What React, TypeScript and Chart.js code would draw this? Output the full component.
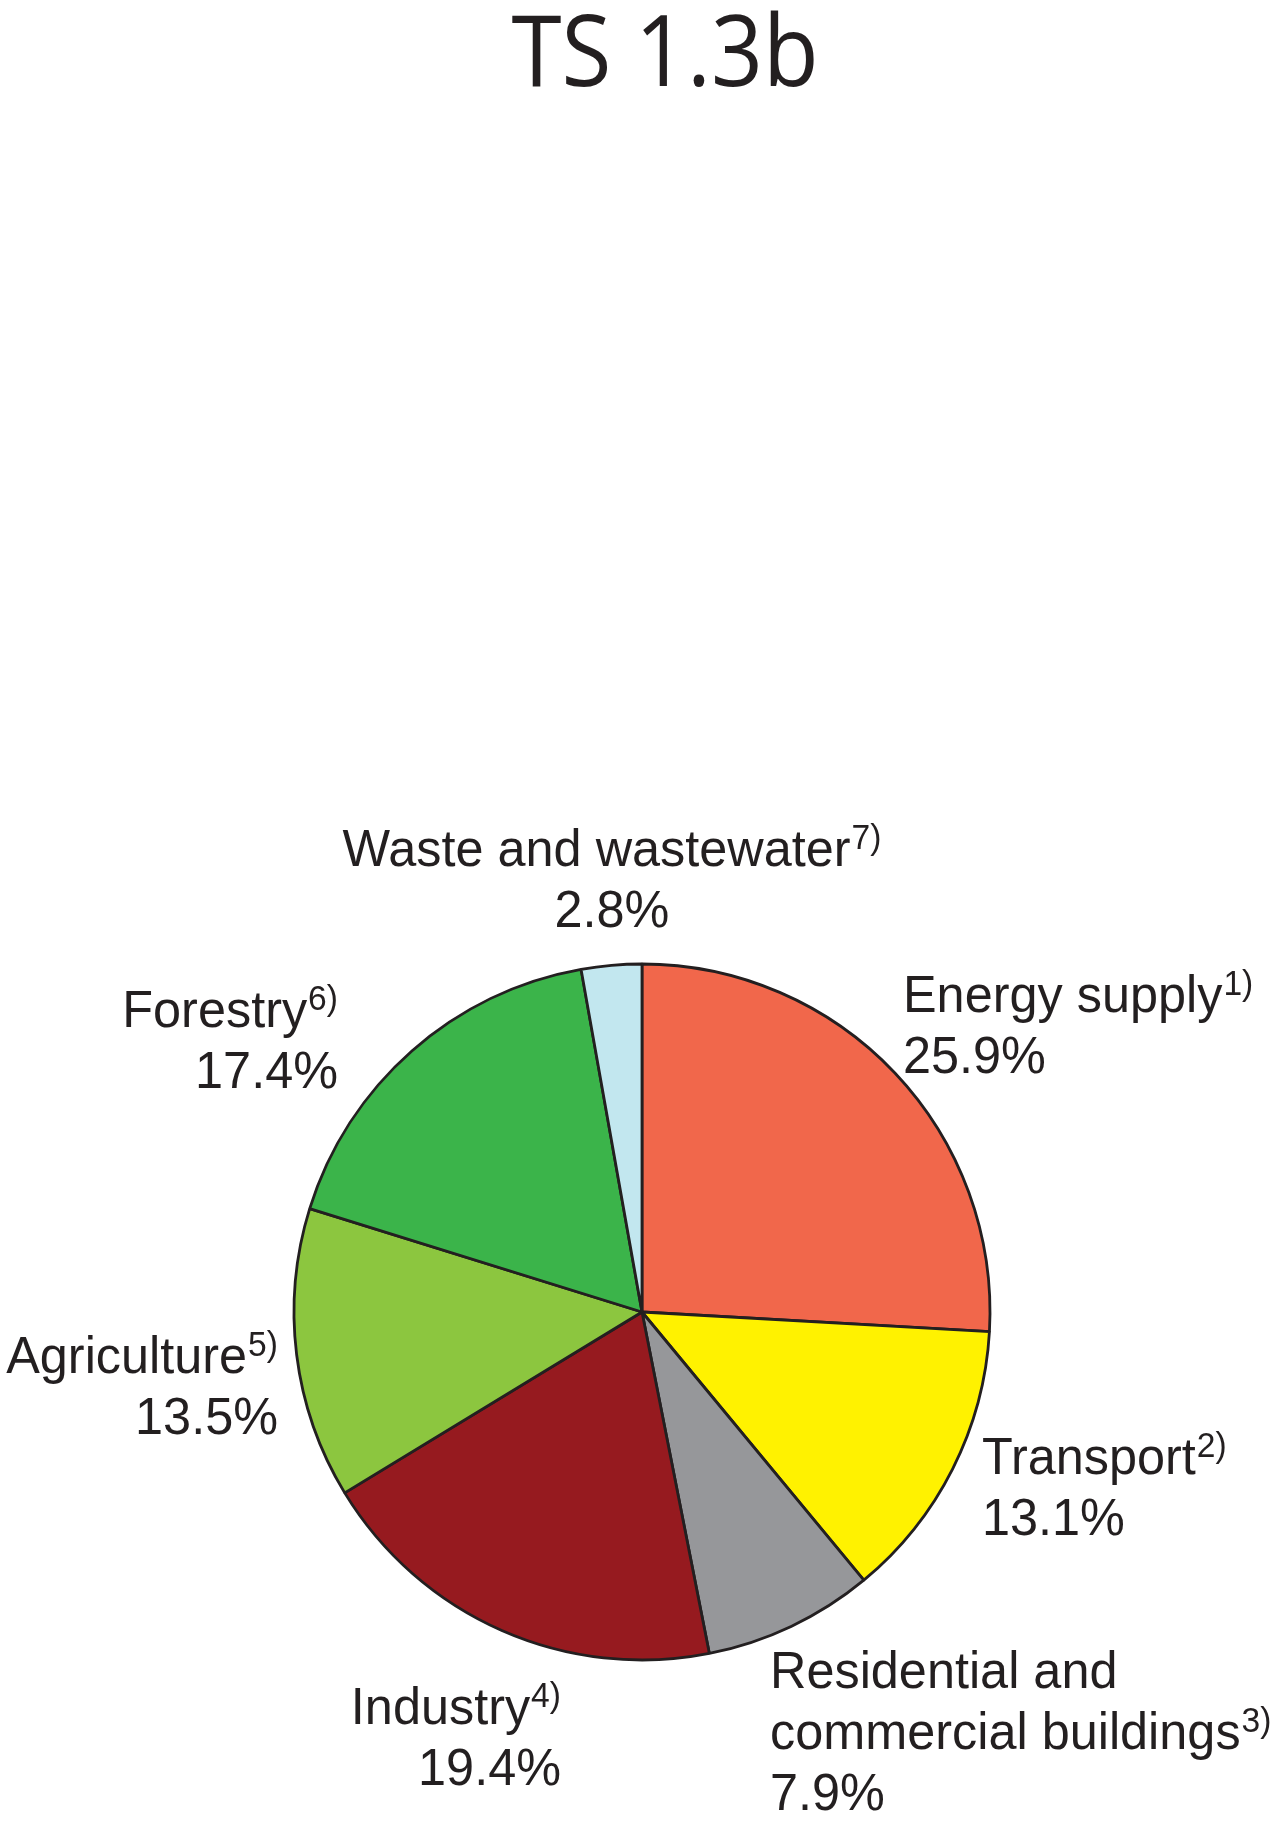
import React, { useEffect, useRef } from "react";
import { Chart, registerables } from "chart.js";

Chart.register(...registerables);

const TITLE = "TS 1.3b";
const categories = [
  "Energy supply",
  "Transport",
  "Residential and\ncommercial buildings",
  "Industry",
  "Agriculture",
  "Forestry",
  "Waste and wastewater",
];
const footnotes = ["1)", "2)", "3)", "4)", "5)", "6)", "7)"];
const shares = [25.9, 13.1, 7.9, 19.4, 13.5, 17.4, 2.8];
const sliceColors = ["#F1674B", "#FFF200", "#96979A", "#961A1F", "#8CC63F", "#3BB44A", "#C2E7EF"];

const TEXT_COLOR = "#231F20";
const LABEL_FONT = 52.5;
const H_SCALE = 0.96;
const SUP_FONT = 35;
const SUP_RAISE = 17;
const LINE_GAP = 61;

// label anchor offsets relative to pie centre (px)
const LABEL_LAYOUT: { dx: number; dy: number; align: "left" | "right" | "center" }[] = [
  { dx: 261, dy: -300, align: "left" },
  { dx: 340, dy: 162, align: "left" },
  { dx: 128, dy: 376, align: "left" },
  { dx: -81, dy: 412, align: "right" },
  { dx: -364, dy: 61, align: "right" },
  { dx: -304, dy: -285, align: "right" },
  { dx: -30, dy: -446, align: "center" },
];

function drawScaled(ctx: CanvasRenderingContext2D, text: string, x: number, y: number) {
  ctx.save();
  ctx.translate(x, y);
  ctx.scale(H_SCALE, 1);
  ctx.fillText(text, 0, 0);
  ctx.restore();
}

const labelPlugin = {
  id: "sectorLabels",
  afterDraw(chart: any) {
    const ctx: CanvasRenderingContext2D = chart.ctx;
    const arc = chart.getDatasetMeta(0).data[0];
    const cx = arc.x;
    const cy = arc.y;
    ctx.save();
    ctx.fillStyle = TEXT_COLOR;
    ctx.textBaseline = "alphabetic";

    // title
    ctx.font = `400 99px "Open Sans"`;
    const tm = ctx.measureText(TITLE);
    const ink = tm.actualBoundingBoxLeft + tm.actualBoundingBoxRight;
    const sx = 303 / ink;
    ctx.save();
    ctx.translate(665, 86);
    ctx.scale(sx, 1);
    ctx.textAlign = "center";
    ctx.fillText(TITLE, 0, 0);
    ctx.restore();

    ctx.textAlign = "left";
    LABEL_LAYOUT.forEach((pos, i) => {
      const nameLines = categories[i].split("\n");
      const lines = [...nameLines, shares[i].toFixed(1) + "%"];
      const X = cx + pos.dx;
      lines.forEach((line, j) => {
        const y = cy + pos.dy + j * LINE_GAP;
        const withSup = j === nameLines.length - 1;
        ctx.font = `${LABEL_FONT}px "Liberation Sans"`;
        const mainW = ctx.measureText(line).width * H_SCALE;
        let supW = 0;
        const gap = withSup ? 1 : 0;
        if (withSup) {
          ctx.font = `${SUP_FONT}px "Liberation Sans"`;
          supW = ctx.measureText(footnotes[i]).width * H_SCALE;
        }
        const total = mainW + gap + supW;
        let x0 = X;
        if (pos.align === "right") x0 = X - total;
        else if (pos.align === "center") x0 = X - total / 2;
        ctx.font = `${LABEL_FONT}px "Liberation Sans"`;
        drawScaled(ctx, line, x0, y);
        if (withSup) {
          ctx.font = `${SUP_FONT}px "Liberation Sans"`;
          drawScaled(ctx, footnotes[i], x0 + mainW + gap, y - SUP_RAISE);
        }
      });
    });
    ctx.restore();
  },
};

export default function App() {
  const ref = useRef<HTMLCanvasElement | null>(null);
  useEffect(() => {
    if (!ref.current) return;
    const chart = new Chart(ref.current, {
      type: "pie",
      data: {
        labels: categories.map((c) => c.replace("\n", " ")),
        datasets: [
          {
            data: shares,
            backgroundColor: sliceColors,
            borderColor: "#231F20",
            borderWidth: 2.8,
          },
        ],
      },
      options: {
        responsive: false,
        animation: false,
        devicePixelRatio: 1,
        radius: 348,
        layout: { padding: { top: 811, bottom: 10, left: 4, right: 0 } },
        plugins: {
          legend: { display: false },
          tooltip: { enabled: false },
          title: { display: false },
        },
      } as any,
      plugins: [labelPlugin],
    });
    return () => chart.destroy();
  }, []);
  return (
    <div style={{ position: "absolute", left: 0, top: 0, width: 1280, height: 1823, background: "#fff" }}>
      <canvas ref={ref} width={1280} height={1823} style={{ display: "block" }} />
    </div>
  );
}
